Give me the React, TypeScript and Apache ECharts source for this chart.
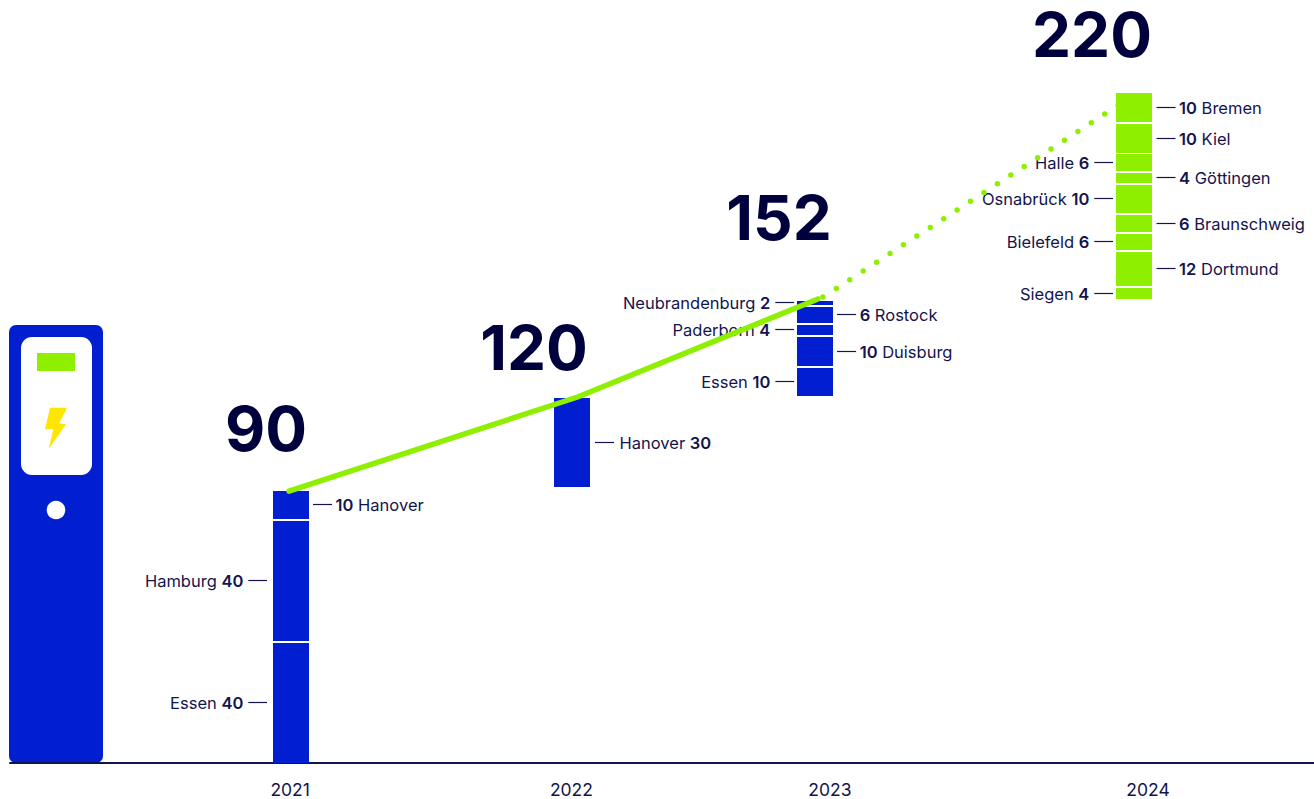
import React, { useEffect, useRef } from "react";
import * as echarts from "echarts";

// ---- data ----
const yearLabels = ["2021", "2022", "2023", "2024"];
const barPositions = [2021, 2022, 2022.865, 2024];
const tickPositions = [2020.997, 2021.998, 2022.918, 2024.05];
const totals = [90, 120, 152, 220];
const stackStarts = [0, 90, 120, 152];

// bottom to top in each year
const names2021 = ["Essen", "Hamburg", "Hanover"];
const values2021 = [40, 40, 10];
const sides2021 = ["left", "left", "right"];

const names2022 = ["Hanover"];
const values2022 = [30];
const sides2022 = ["rightNameFirst"];

const names2023 = ["Essen", "Duisburg", "Paderborn", "Rostock", "Neubrandenburg"];
const values2023 = [10, 10, 4, 6, 2];
const sides2023 = ["left", "right", "left", "right", "left"];

const names2024 = ["Siegen", "Dortmund", "Bielefeld", "Braunschweig", "Osnabrück", "Göttingen", "Halle", "Kiel", "Bremen"];
const values2024 = [4, 12, 6, 6, 10, 4, 6, 10, 10];
const sides2024 = ["left", "right", "left", "right", "left", "right", "left", "right", "right"];

const solidTrend = [[2020.993, 89.3], [2022.02, 120.2], [2022.875, 152.4]];
const dottedTrend = [[2022.893, 153], [2024.021, 220.6]];

// ---- styles / layout ----
const BLUE = "#011fd0";
const GREEN = "#8ef000";
const INK = "#14144d";
const TOTAL_INK = "#00003c";
const FONT = "Inter, 'Noto Sans', sans-serif";
const LABEL_SIZE = 16.5;
const barColors = [BLUE, BLUE, BLUE, GREEN];
const totalOffsets = [[-25, -29], [-38, -19], [-36, -52], [-42, -28]];
const leftGaps = [6, 3, 3, 3];
const rightGaps = [4, 5, 4, 4.5];

type Seg = { x: number; from: number; to: number; name: string; value: number; side: string; stack: number };

const groups = [
  [names2021, values2021, sides2021],
  [names2022, values2022, sides2022],
  [names2023, values2023, sides2023],
  [names2024, values2024, sides2024],
] as [string[], number[], string[]][];

const segments: Seg[] = [];
groups.forEach(([names, values, sides], stack) => {
  let cur = stackStarts[stack];
  names.forEach((name, i) => {
    segments.push({ x: barPositions[stack], from: cur, to: cur + values[i], name, value: values[i], side: sides[i], stack });
    cur += values[i];
  });
});

const rich = {
  n: { fontFamily: FONT, fontSize: LABEL_SIZE, fontWeight: 400, fill: INK, color: INK },
  b: { fontFamily: FONT, fontSize: LABEL_SIZE, fontWeight: 600, fill: INK, color: INK },
};

// pixel rectangle of a segment, with the white gap between neighbours
function segRect(s: Seg, yTop: number, yBottom: number) {
  if (s.stack === 0) return { top: Math.round(yTop + 2), bottom: Math.round(yBottom) };
  return { top: Math.ceil(yTop - 0.15), bottom: Math.round(yBottom - 1.5) };
}

export default function App() {
  const ref = useRef<HTMLDivElement>(null);
  useEffect(() => {
    document.body.style.margin = "0";
    const chart = echarts.init(ref.current!, null, { renderer: "svg" });
    const option: any = {
      animation: false,
      tooltip: { show: false },
      grid: { left: 10, right: 0, top: 1.75, bottom: 36, containLabel: false },
      xAxis: {
        type: "value",
        min: 2020,
        max: 2020 + 1304 / 281,
        axisLine: { show: true, onZero: true, lineStyle: { color: "#14144d", width: 2 } },
        axisTick: { show: false },
        splitLine: { show: false },
        axisLabel: {
          customValues: tickPositions,
          showMinLabel: true,
          showMaxLabel: true,
          margin: 17,
          color: INK,
          fontFamily: FONT,
          fontSize: 17.5,
          formatter: (v: number) => yearLabels[tickPositions.indexOf(v)] ?? "",
        },
      },
      yAxis: { type: "value", min: 0, max: 250, show: false },
      graphic: [
        { type: "rect", silent: true, z: 0, shape: { x: 9, y: 325, width: 94, height: 438, r: 7 }, style: { fill: BLUE } },
        { type: "rect", silent: true, z: 1, shape: { x: 21, y: 337, width: 71, height: 138, r: 11 }, style: { fill: "#ffffff" } },
        { type: "rect", silent: true, z: 2, shape: { x: 37, y: 353, width: 38, height: 18 }, style: { fill: GREEN } },
        {
          type: "polygon", silent: true, z: 2,
          shape: { points: [[50, 407.7], [67, 407.7], [59.3, 423.3], [66, 424.3], [48.7, 449], [53.3, 429.3], [45, 429.3]] },
          style: { fill: "#ffe600" },
        },
        { type: "circle", silent: true, z: 2, shape: { cx: 56, cy: 510, r: 9.3 }, style: { fill: "#ffffff" } },
      ],
      series: [
        {
          type: "custom",
          name: "bars",
          z: 1,
          silent: true,
          coordinateSystem: "cartesian2d",
          data: segments.map((s) => [s.x, s.from, s.to]),
          encode: { x: 0, y: [1, 2] },
          renderItem: (params: any, api: any) => {
            const s = segments[params.dataIndex];
            const [cx, yTop] = api.coord([api.value(0), api.value(2)]);
            const [, yBottom] = api.coord([api.value(0), api.value(1)]);
            const { top, bottom } = segRect(s, yTop, yBottom);
            return {
              type: "rect",
              shape: { x: Math.round(cx - 18), y: top, width: 36, height: bottom - top },
              style: { fill: barColors[s.stack] },
            };
          },
        },
        {
          type: "custom",
          name: "labels",
          z: 2,
          silent: true,
          coordinateSystem: "cartesian2d",
          data: segments.map((s) => [s.x, s.from, s.to]),
          encode: { x: 0, y: [1, 2] },
          renderItem: (params: any, api: any) => {
            const s = segments[params.dataIndex];
            const [cx, yTop] = api.coord([api.value(0), api.value(2)]);
            const [, yBottom] = api.coord([api.value(0), api.value(1)]);
            const { top, bottom } = segRect(s, yTop, yBottom);
            const ym = Math.round((top + bottom) / 2);
            const isLeft = s.side === "left";
            const gap = isLeft ? leftGaps[s.stack] : rightGaps[s.stack];
            const x1 = isLeft ? cx - 18 - gap - 18.7 : cx + 18 + gap;
            const x2 = isLeft ? cx - 18 - gap : cx + 18 + gap + 19;
            const tx = isLeft ? x1 - 5 : x2 + (s.side === "right" ? 3.6 : 5.5);
            const text = s.side === "right"
              ? `{b|${s.value}}{n| ${s.name}}`
              : `{n|${s.name} }{b|${s.value}}`;
            return {
              type: "group",
              children: [
                { type: "line", shape: { x1, y1: ym - 0.5, x2, y2: ym - 0.5 }, style: { stroke: INK, lineWidth: 1.2 } },
                {
                  type: "text",
                  style: { text, x: tx, y: ym, align: isLeft ? "right" : "left", verticalAlign: "middle", rich, fontFamily: FONT, fontSize: LABEL_SIZE, fill: INK },
                },
              ],
            };
          },
        },
        {
          type: "custom",
          name: "totals",
          z: 2,
          silent: true,
          coordinateSystem: "cartesian2d",
          data: totals.map((t, i) => [barPositions[i], t]),
          encode: { x: 0, y: 1 },
          renderItem: (params: any, api: any) => {
            const i = params.dataIndex;
            const [x, y] = api.coord([api.value(0), api.value(1)]);
            return {
              type: "text",
              style: {
                text: String(totals[i]),
                x: x + totalOffsets[i][0],
                y: y + totalOffsets[i][1],
                align: "center",
                verticalAlign: "bottom",
                fontFamily: FONT,
                fontSize: 62,
                fontWeight: 700,
                fill: TOTAL_INK,
              },
            };
          },
        },
        {
          type: "line",
          name: "trend",
          z: 3,
          silent: true,
          symbol: "none",
          data: solidTrend,
          lineStyle: { color: GREEN, width: 5.5, cap: "round", join: "round" },
        },
        {
          type: "line",
          name: "trend-dotted",
          z: 3,
          silent: true,
          symbol: "none",
          data: dottedTrend,
          lineStyle: { color: GREEN, width: 5.5, cap: "round", type: [0, 16] },
        },
      ],
    };
    chart.setOption(option);
    return () => chart.dispose();
  }, []);
  return <div ref={ref} style={{ width: 1314, height: 799 }} />;
}
